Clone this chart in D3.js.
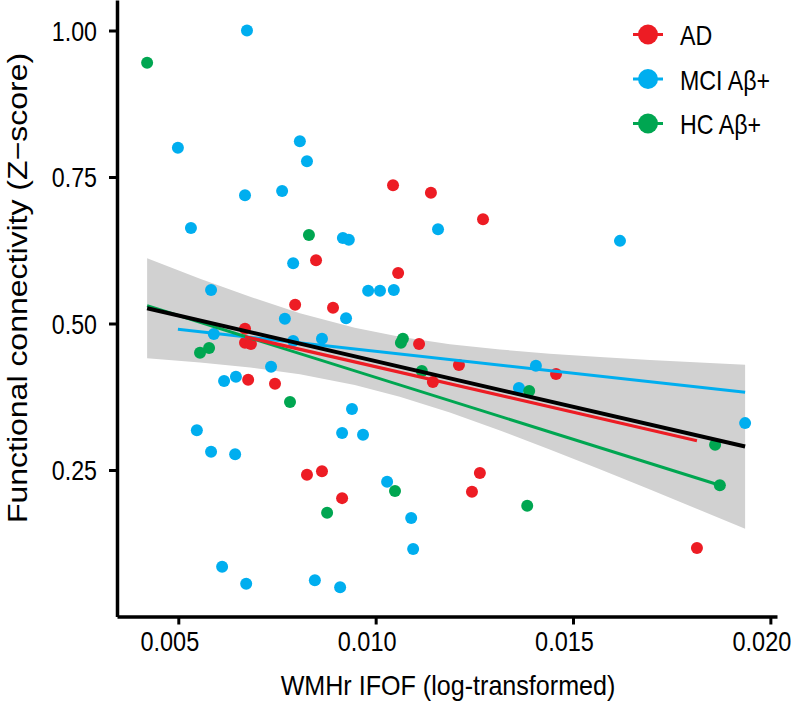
<!DOCTYPE html>
<html>
<head>
<meta charset="utf-8">
<script src="https://cdn.jsdelivr.net/npm/d3@7/dist/d3.min.js"></script>
<style>
html,body{margin:0;padding:0;background:#fff;}
text{font-family:"Liberation Sans",Arial,Helvetica,sans-serif;fill:#000;}
</style>
</head>
<body>
<svg id="chart" width="791" height="705"></svg>
<script>
// ---- data ----
const groups = ["AD", "MCI Aβ+", "HC Aβ+"];
const groupColors = ["#ED1C24", "#00AEEF", "#00A651"];

const adX = [0.01044,0.01140,0.01057,0.00849,0.00796,0.00892,0.01272,0.00669,0.00669,0.00684,0.00677,0.00745,0.01110,0.01145,0.00826,0.00864,0.00915,0.01211,0.01457,0.01264,0.01244,0.01814];
const adY = [0.736,0.723,0.586,0.608,0.532,0.527,0.678,0.491,0.467,0.465,0.404,0.397,0.465,0.400,0.242,0.248,0.202,0.429,0.414,0.245,0.213,0.117];

const mciX = [0.00674,0.00499,0.00808,0.00826,0.00669,0.00763,0.00532,0.00917,0.00932,0.01158,0.00791,0.00583,0.00981,0.01011,0.01046,0.01619,0.00770,0.00925,0.00590,0.00791,0.00864,0.00735,0.00616,0.00646,0.00940,0.00547,0.00915,0.00968,0.00583,0.00644,0.01029,0.01090,0.01095,0.00611,0.00672,0.00846,0.00910,0.01406,0.01363,0.01936];
const mciY = [1.000,0.800,0.811,0.777,0.719,0.726,0.663,0.646,0.643,0.661,0.603,0.557,0.556,0.556,0.557,0.641,0.508,0.509,0.482,0.470,0.474,0.426,0.402,0.409,0.354,0.318,0.313,0.310,0.281,0.277,0.230,0.168,0.115,0.085,0.056,0.062,0.050,0.428,0.390,0.330];

const hcX = [0.00421,0.00831,0.00555,0.00578,0.00783,0.01069,0.01064,0.01117,0.01049,0.00877,0.01389,0.01384,0.01860,0.01872];
const hcY = [0.945,0.651,0.450,0.458,0.366,0.474,0.467,0.419,0.214,0.177,0.385,0.189,0.293,0.224];

// fitted lines (endpoints)
const fitAllX = [0.00421, 0.01936];
const fitAllY = [0.526, 0.290];
const fitADX  = [0.00669, 0.01814];
const fitADY  = [0.4775, 0.300];
const fitMCIX = [0.00499, 0.01936];
const fitMCIY = [0.490, 0.3826];
const fitHCX  = [0.00421, 0.01872];
const fitHCY  = [0.5304, 0.2239];

// confidence band of the overall fit
const bandX    = [0.00421,0.00555,0.00682,0.00808,0.00947,0.01061,0.01188,0.01315,0.01441,0.01568,0.01695,0.01821,0.01936];
const bandHigh = [0.6113,0.5765,0.5456,0.5177,0.4928,0.4773,0.4647,0.4556,0.4485,0.4428,0.4379,0.4333,0.4297];
const bandLow  = [0.4406,0.4334,0.4251,0.4133,0.3949,0.3749,0.3480,0.3174,0.2850,0.2514,0.2167,0.1817,0.1498];

const xTicks = [0.005, 0.010, 0.015, 0.020];
const yTicks = [0.25, 0.50, 0.75, 1.00];

// ---- drawing ----
const svg = d3.select("#chart");
svg.append("rect").attr("width",791).attr("height",705).attr("fill","#fff");

const x = d3.scaleLinear().domain([0.003447, 0.020168]).range([117, 777]);
const y = d3.scaleLinear().domain([0, 1.05205]).range([616.5, 0]);
const SX = 0.86;

// band
const band = bandX.map((v,i)=>({x:v, lo:bandLow[i], hi:bandHigh[i]}));
svg.append("path").datum(band)
  .attr("fill","#d1d1d1")
  .attr("d", d3.area().x(d=>x(d.x)).y0(d=>y(d.lo)).y1(d=>y(d.hi)));

// points
const sets = [
  {xs:mciX, ys:mciY, c:groupColors[1]},
  {xs:adX, ys:adY, c:groupColors[0]},
  {xs:hcX, ys:hcY, c:groupColors[2]}
];
sets.forEach(s=>{
  svg.append("g").selectAll("circle").data(s.xs.map((v,i)=>[v,s.ys[i]]))
    .join("circle")
    .attr("cx",d=>x(d[0])).attr("cy",d=>y(d[1])).attr("r",6)
    .attr("fill",s.c);
});

// lines
const line = d3.line().x(d=>x(d[0])).y(d=>y(d[1]));
const fits = [
  {xs:fitMCIX, ys:fitMCIY, c:groupColors[1], w:3},
  {xs:fitHCX, ys:fitHCY, c:groupColors[2], w:3},
  {xs:fitADX, ys:fitADY, c:groupColors[0], w:3.2},
  {xs:fitAllX, ys:fitAllY, c:"#000", w:4}
];
fits.forEach(f=>{
  svg.append("path").datum(f.xs.map((v,i)=>[v,f.ys[i]]))
    .attr("fill","none").attr("stroke",f.c).attr("stroke-width",f.w)
    .attr("d",line);
});

// axes
const xAxis = svg.append("g").attr("transform","translate(0,616.5)")
  .call(d3.axisBottom(x).tickValues(xTicks).tickSize(8).tickSizeOuter(0).tickFormat(d3.format(".3f")));
xAxis.select(".domain").attr("stroke","#000").attr("stroke-width",3.5);
xAxis.selectAll(".tick line").attr("stroke","#000").attr("stroke-width",3);
xAxis.selectAll(".tick text").remove();
xAxis.selectAll(".tick").append("text")
  .attr("transform","translate(-9,34.5) scale(0.84,1)")
  .attr("text-anchor","middle").attr("font-size",28)
  .text(d=>d3.format(".3f")(d));

const yAxis = svg.append("g").attr("transform","translate(117,0)")
  .call(d3.axisLeft(y).tickValues(yTicks).tickSize(8).tickSizeOuter(0).tickFormat(d3.format(".2f")));
yAxis.select(".domain").attr("stroke","#000").attr("stroke-width",3.5);
yAxis.selectAll(".tick line").attr("stroke","#000").attr("stroke-width",3);
yAxis.selectAll(".tick text").remove();
yAxis.selectAll(".tick").append("text")
  .attr("transform","translate(-20,9.5) scale(" + SX + ",1)")
  .attr("text-anchor","end").attr("font-size",27)
  .text(d=>d3.format(".2f")(d));

// axis titles
svg.append("text")
  .attr("transform","translate(448,695) scale(0.93,1)")
  .attr("text-anchor","middle").attr("font-size",27)
  .text("WMHr IFOF (log-transformed)");
svg.append("text")
  .attr("transform","translate(27,288) scale(" + SX + ",1) rotate(-90)")
  .attr("text-anchor","middle").attr("font-size",32)
  .text("Functional connectivity (Z\u2212score)");

// legend
const legY = [34.5, 79, 123.5];
const leg = svg.append("g");
groups.forEach((g,i)=>{
  leg.append("line").attr("x1",633).attr("x2",663).attr("y1",legY[i]).attr("y2",legY[i])
    .attr("stroke",groupColors[i]).attr("stroke-width",3);
  leg.append("circle").attr("cx",648).attr("cy",legY[i]).attr("r",10).attr("fill",groupColors[i]);
  leg.append("text")
    .attr("transform","translate(680," + (legY[i]+10.5) + ") scale(" + SX + ",1)")
    .attr("font-size",27).text(g);
});
</script>
</body>
</html>
